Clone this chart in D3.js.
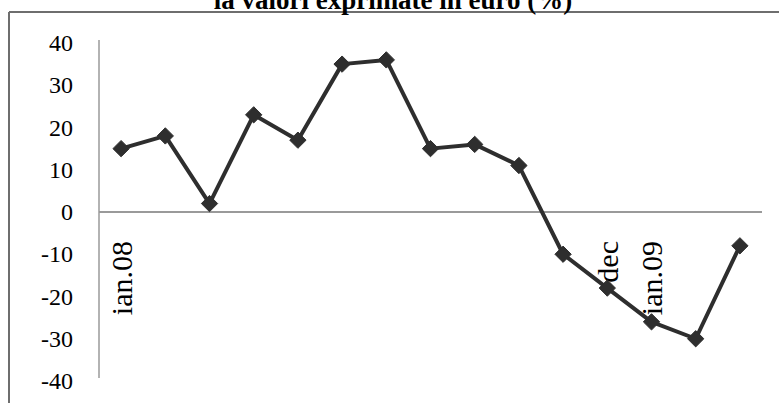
<!DOCTYPE html>
<html>
<head>
<meta charset="utf-8">
<script src="https://cdn.jsdelivr.net/npm/d3@7"></script>
<style>
  html, body { margin: 0; padding: 0; background: #fff; }
  svg { display: block; }
</style>
</head>
<body>
<script>
// Monthly change, Jan 2008 – Mar 2009 (%)
const months = ["ian.08", "feb", "mar", "apr", "mai", "iun", "iul", "aug", "sep", "oct", "nov", "dec", "ian.09", "feb.09", "mar.09"];
const values = [15, 18, 2, 23, 17, 35, 36, 15, 16, 11, -10, -18, -26, -30, -8];
const shownLabels = ["ian.08", "dec", "ian.09"];
const yTicks = [-40, -30, -20, -10, 0, 10, 20, 30, 40];
const title = "la valori exprimate in euro (%)";

const SERIF = "'Liberation Serif', 'Times New Roman', serif";
const W = 779, H = 403;
const svg = d3.select("body").append("svg").attr("width", W).attr("height", H);

// outer frame (top and left edges visible)
svg.append("line").attr("x1", 9).attr("x2", W).attr("y1", 12).attr("y2", 12)
  .attr("stroke", "#6e6e6e").attr("stroke-width", 2);
svg.append("line").attr("x1", 9).attr("x2", 9).attr("y1", 12).attr("y2", H)
  .attr("stroke", "#6e6e6e").attr("stroke-width", 2);

svg.append("text").attr("x", 393).attr("y", 9)
  .attr("text-anchor", "middle")
  .style("font-family", SERIF).style("font-weight", "bold").style("font-size", "27px")
  .text(title);

const x = d3.scaleBand().domain(months).range([99, 762]);
const y = d3.scaleLinear().domain([-40, 40]).range([381, 43]);

// y axis: labels only, plain vertical rule
const yAxis = d3.axisLeft(y).tickValues(yTicks).tickSize(0).tickPadding(26).tickFormat(d => String(d));
const gy = svg.append("g").attr("transform", "translate(99,0)").call(yAxis);
gy.select(".domain").attr("stroke", "#9a9a9a").attr("stroke-width", 1.5)
  .attr("d", `M0,${y(40) - 3}V${y(-40) - 3}`);
gy.selectAll("text")
  .style("font-family", SERIF).style("font-size", "24px").attr("fill", "#000");

// zero baseline
svg.append("line").attr("x1", 99).attr("x2", 762).attr("y1", y(0)).attr("y2", y(0))
  .attr("stroke", "#9a9a9a").attr("stroke-width", 2);

// category labels, rotated
svg.append("g").selectAll("text").data(shownLabels).join("text")
  .attr("transform", d => `translate(${x(d) + x.bandwidth() / 2},241) rotate(-90)`)
  .attr("text-anchor", "end").attr("dy", "0.35em")
  .style("font-family", SERIF).style("font-size", "30px")
  .text(d => d);

const cx = d => x(d) + x.bandwidth() / 2;
const line = d3.line().x((d, i) => cx(months[i])).y(d => y(d));
svg.append("path").datum(values).attr("d", line)
  .attr("fill", "none").attr("stroke", "#2e2e2e").attr("stroke-width", 4).attr("stroke-linejoin", "round");

svg.append("g").selectAll("path").data(values).join("path")
  .attr("transform", (d, i) => `translate(${cx(months[i])},${y(d)})`)
  .attr("d", d3.symbol(d3.symbolDiamond2, 170)())
  .attr("fill", "#2e2e2e").attr("stroke", "#2e2e2e").attr("stroke-width", 1);
</script>
</body>
</html>
